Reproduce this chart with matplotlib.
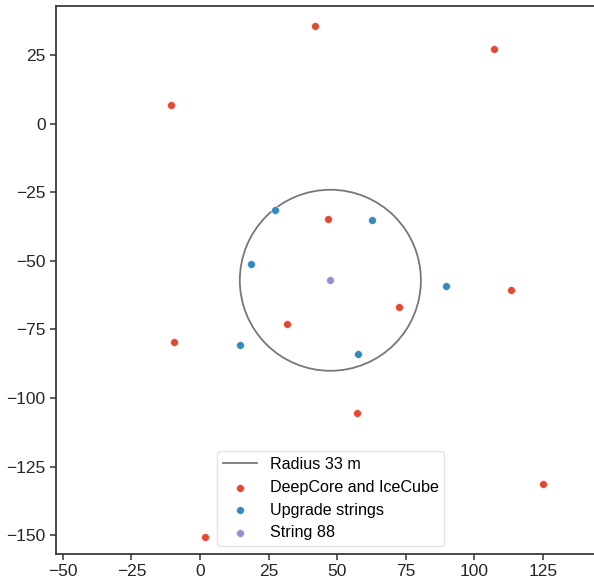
import numpy as np
import matplotlib
matplotlib.use('Agg')
import matplotlib.pyplot as plt
from matplotlib.patches import Circle

# Positions of strings (m)
deepcore_x = [41.9, 107.1, -10.6, 46.6, 72.5, 31.7, -9.5, 113.3, 57.2, 125.0, 1.8]
deepcore_y = [35.6, 27.2, 6.8, -34.8, -66.9, -73.1, -79.7, -60.7, -105.5, -131.4, -150.7]
upgrade_x = [27.3, 62.7, 18.5, 89.6, 14.5, 57.5]
upgrade_y = [-31.5, -35.1, -51.2, -59.2, -80.7, -84.0]
string88_x = [47.5]
string88_y = [-57.1]
radius = 33

plt.rcParams['font.family'] = ['Liberation Sans', 'DejaVu Sans']
plt.rcParams['font.size'] = 12.5

fig = plt.figure(figsize=(5.94, 5.80), dpi=100)
ax = fig.add_axes([56/594, 26/580, 538/594, 548/580])

circ = Circle((string88_x[0], string88_y[0]), radius, fill=False, color='#777777', lw=1.3)
ax.add_patch(circ)
ax.plot([], [], color='#777777', lw=1.3, label='Radius 33 m')
ax.scatter(deepcore_x, deepcore_y, s=32, color='#E24A33', edgecolor='white', linewidth=0.4, label='DeepCore and IceCube', zorder=3)
ax.scatter(upgrade_x, upgrade_y, s=32, color='#348ABD', edgecolor='white', linewidth=0.4, label='Upgrade strings', zorder=3)
ax.scatter(string88_x, string88_y, s=32, color='#988ED5', edgecolor='white', linewidth=0.4, label='String 88', zorder=3)

ax.set_xlim(-52.5, 143.6)
ax.set_ylim(-156.9, 42.9)
ax.set_xticks([-50, -25, 0, 25, 50, 75, 100, 125])
ax.set_yticks([25, 0, -25, -50, -75, -100, -125, -150])

for side in ['left', 'bottom', 'top']:
    ax.spines[side].set_color('#333333')
    ax.spines[side].set_linewidth(1.25)
ax.spines['right'].set_visible(False)
ax.tick_params(direction='out', length=4, width=1.1, color='#333333', labelcolor='#262626', labelsize=12.5)

leg = ax.legend(loc='lower center', bbox_to_anchor=(0.511, 0.0), frameon=True, fontsize=11.6,
                handlelength=2.1, borderpad=0.35, labelspacing=0.48)
leg.get_frame().set_edgecolor('#dddddd')

fig.savefig('out.png', dpi=100)
